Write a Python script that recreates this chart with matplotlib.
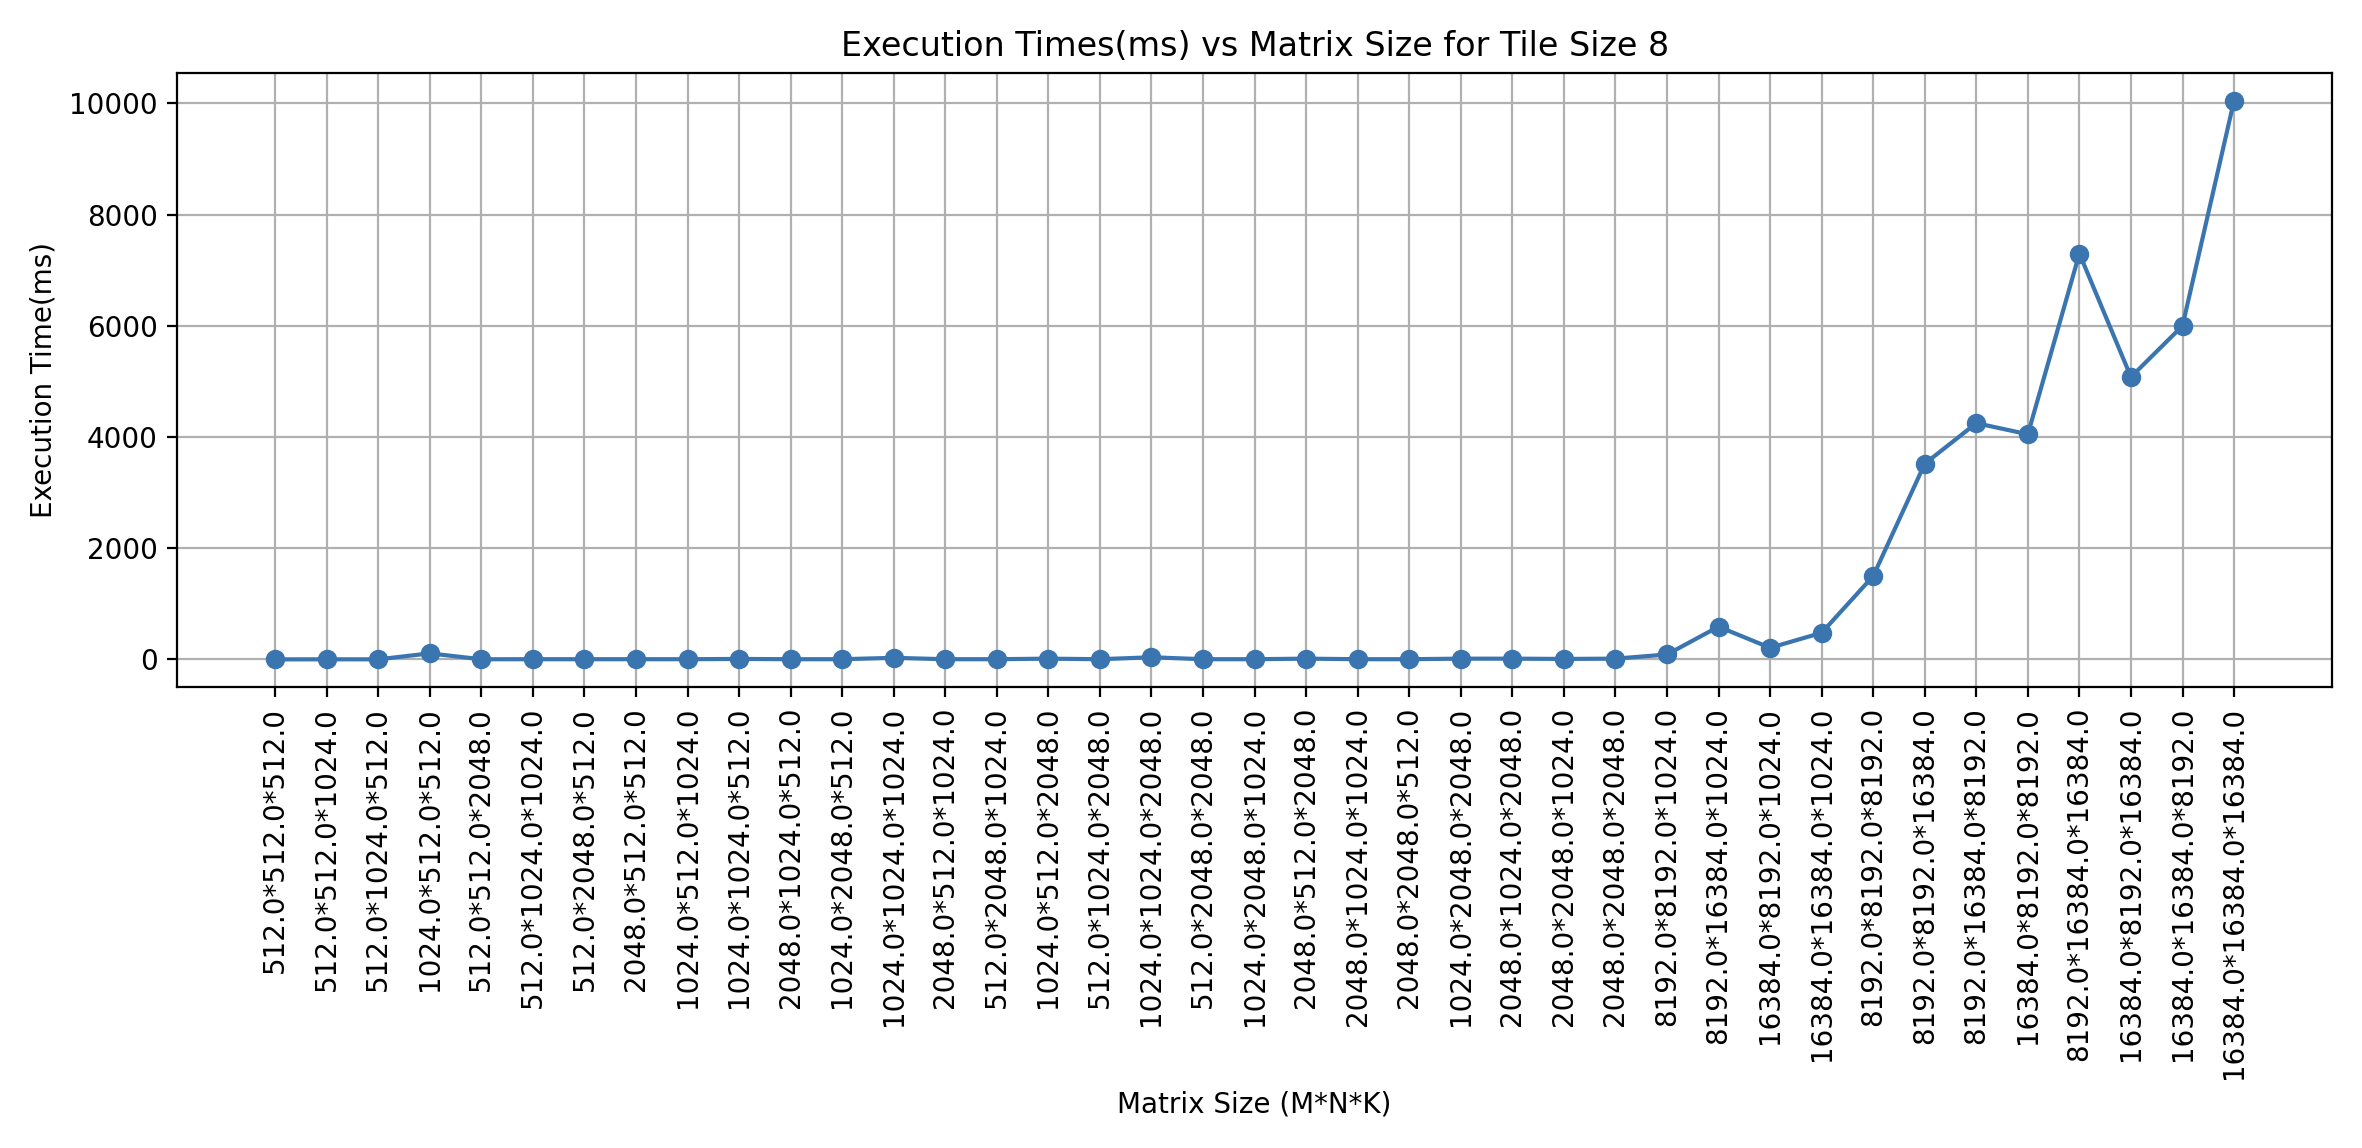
import matplotlib
matplotlib.use("Agg")
import matplotlib.pyplot as plt

sizes = [
    "512.0*512.0*512.0", "512.0*512.0*1024.0", "512.0*1024.0*512.0", "1024.0*512.0*512.0",
    "512.0*512.0*2048.0", "512.0*1024.0*1024.0", "512.0*2048.0*512.0", "2048.0*512.0*512.0",
    "1024.0*512.0*1024.0", "1024.0*1024.0*512.0", "2048.0*1024.0*512.0", "1024.0*2048.0*512.0",
    "1024.0*1024.0*1024.0", "2048.0*512.0*1024.0", "512.0*2048.0*1024.0", "1024.0*512.0*2048.0",
    "512.0*1024.0*2048.0", "1024.0*1024.0*2048.0", "512.0*2048.0*2048.0", "1024.0*2048.0*1024.0",
    "2048.0*512.0*2048.0", "2048.0*1024.0*1024.0", "2048.0*2048.0*512.0", "1024.0*2048.0*2048.0",
    "2048.0*1024.0*2048.0", "2048.0*2048.0*1024.0", "2048.0*2048.0*2048.0", "8192.0*8192.0*1024.0",
    "8192.0*16384.0*1024.0", "16384.0*8192.0*1024.0", "16384.0*16384.0*1024.0", "8192.0*8192.0*8192.0",
    "8192.0*8192.0*16384.0", "8192.0*16384.0*8192.0", "16384.0*8192.0*8192.0", "8192.0*16384.0*16384.0",
    "16384.0*8192.0*16384.0", "16384.0*16384.0*8192.0", "16384.0*16384.0*16384.0",
]
times = [
    2, 3, 3, 110, 4, 5, 5, 5, 5, 10, 5, 5, 30, 5, 5, 15, 5, 40, 5, 5,
    15, 5, 5, 15, 15, 10, 15, 90, 590, 210, 480, 1500, 3520, 4250, 4050, 7300,
    5080, 6000, 10050,
]

fig = plt.figure(figsize=(11.81, 5.74), dpi=200)
plt.plot(sizes, times, marker="o", color="#3a75b0")
plt.title("Execution Times(ms) vs Matrix Size for Tile Size 8")
plt.xlabel("Matrix Size (M*N*K)")
plt.ylabel("Execution Time(ms)")
plt.xticks(rotation=90)
plt.grid(True)
plt.tight_layout()
plt.savefig("out.png")
